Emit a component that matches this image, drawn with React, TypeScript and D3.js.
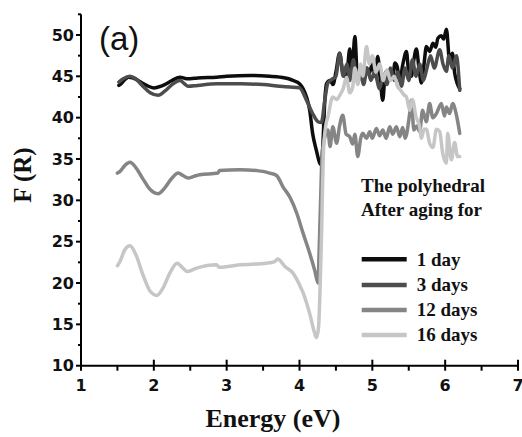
import React from "react";
import * as d3 from "d3";

const W = 522;
const H = 437;

const seriesNames = ["1 day", "3 days", "12 days", "16 days"];
const seriesColors = ["#0d0d0d", "#4d4d4d", "#858585", "#c6c6c6"];

const day1: [number, number][] = [
  [1.52, 43.9], [1.56, 44.2], [1.6, 44.6], [1.65, 44.9], [1.72, 44.8], [1.8, 44.4], [1.9, 43.9], [2.0, 43.6], [2.06, 43.7],
  [2.15, 44.0], [2.25, 44.5], [2.36, 44.9], [2.45, 44.7], [2.5, 44.7], [2.6, 44.8], [2.86, 44.9], [3.0, 45.0], [3.32, 45.1],
  [3.59, 45.0], [3.73, 44.9], [3.85, 44.7], [3.91, 44.5], [4.0, 44.1], [4.05, 43.5], [4.096, 42.5], [4.14, 40.9], [4.18, 38.1],
  [4.23, 36.1], [4.278, 34.5], [4.3, 34.3], [4.32, 36.5], [4.347, 42.0], [4.37, 44.1], [4.42, 44.5], [4.46, 44.0], [4.5, 45.5],
  [4.55, 47.8], [4.6, 45.2], [4.645, 44.9], [4.69, 48.3], [4.72, 45.5], [4.76, 49.8], [4.8, 44.2], [4.84, 45.5], [4.87, 44.9],
  [4.92, 46.0], [4.96, 45.4], [5.0, 46.5], [5.04, 45.0], [5.074, 47.4], [5.11, 44.5], [5.143, 42.1], [5.18, 45.5], [5.21, 44.5],
  [5.24, 45.6], [5.28, 44.8], [5.31, 46.6], [5.34, 46.2], [5.376, 44.5], [5.42, 46.5], [5.468, 48.0], [5.5, 45.5], [5.536, 45.0],
  [5.57, 47.0], [5.605, 48.3], [5.64, 46.0], [5.674, 44.2], [5.71, 46.5], [5.742, 48.6], [5.787, 48.0], [5.833, 49.0],
  [5.87, 48.5], [5.9, 49.6], [5.948, 49.9], [5.98, 49.5], [6.017, 50.7], [6.06, 47.0], [6.1, 47.8], [6.13, 45.4], [6.2, 43.5],
];

const day3: [number, number][] = [
  [1.52, 44.3], [1.58, 44.7], [1.672, 45.0], [1.75, 44.7], [1.85, 43.8], [1.95, 43.0], [2.06, 42.7], [2.15, 43.2], [2.25, 44.0],
  [2.36, 44.5], [2.42, 44.1], [2.47, 43.8], [2.6, 43.9], [2.86, 44.1], [3.2, 44.1], [3.5, 44.0], [3.73, 43.8], [3.87, 43.7],
  [4.0, 43.6], [4.096, 42.1], [4.18, 40.5], [4.255, 39.5], [4.3, 39.4], [4.347, 42.1], [4.39, 44.2], [4.44, 44.6], [4.5, 45.0],
  [4.553, 47.8], [4.6, 45.0], [4.65, 46.5], [4.69, 44.5], [4.74, 47.0], [4.78, 45.0], [4.83, 46.0], [4.88, 44.0], [4.93, 46.0],
  [4.98, 44.5], [5.03, 45.5], [5.1, 43.5], [5.15, 45.0], [5.2, 44.0], [5.25, 46.0], [5.3, 44.5], [5.35, 45.5], [5.4, 43.8],
  [5.45, 46.0], [5.5, 44.5], [5.55, 47.0], [5.6, 45.0], [5.65, 46.5], [5.7, 44.5], [5.75, 46.0], [5.8, 47.5], [5.85, 46.0],
  [5.925, 48.2], [5.97, 46.5], [6.017, 45.6], [6.05, 47.5], [6.1, 46.0], [6.153, 47.5], [6.2, 43.3],
];

const day12: [number, number][] = [
  [1.5, 33.3], [1.535, 33.5], [1.6, 34.2], [1.672, 34.6], [1.75, 34.0], [1.85, 32.6], [1.95, 31.3], [2.06, 30.8], [2.15, 31.5],
  [2.25, 32.7], [2.335, 33.3], [2.4, 33.0], [2.47, 32.7], [2.55, 32.9], [2.63, 33.1], [2.88, 33.3], [2.9, 33.6], [3.18, 33.7],
  [3.41, 33.6], [3.5, 33.5], [3.59, 33.3], [3.685, 33.0], [3.775, 31.6], [3.867, 30.4], [3.96, 28.5], [4.05, 26.0], [4.14, 23.6],
  [4.21, 21.5], [4.255, 20.0], [4.27, 24.0], [4.29, 30.0], [4.31, 35.5], [4.35, 37.7], [4.39, 38.5], [4.42, 36.5], [4.457, 38.9],
  [4.51, 36.9], [4.55, 39.0], [4.594, 40.3], [4.64, 38.0], [4.69, 37.7], [4.73, 36.8], [4.76, 38.0], [4.8, 35.3], [4.84, 37.5],
  [4.868, 38.1], [4.92, 37.5], [4.964, 38.3], [5.0, 37.5], [5.056, 38.7], [5.1, 37.8], [5.143, 38.5], [5.19, 37.5], [5.239, 38.9],
  [5.28, 38.0], [5.33, 38.9], [5.376, 37.7], [5.417, 38.8], [5.45, 37.5], [5.513, 40.5], [5.536, 42.1], [5.57, 38.5], [5.61, 39.0],
  [5.65, 38.3], [5.69, 40.9], [5.74, 39.5], [5.787, 41.7], [5.83, 40.0], [5.88, 40.5], [5.948, 41.7], [5.99, 40.2], [6.017, 41.3],
  [6.06, 40.5], [6.103, 41.7], [6.15, 40.5], [6.2, 38.1],
];

const day16: [number, number][] = [
  [1.5, 22.1], [1.535, 22.6], [1.6, 24.0], [1.672, 24.5], [1.75, 23.5], [1.85, 21.0], [1.95, 19.0], [2.04, 18.5], [2.12, 19.3],
  [2.22, 21.2], [2.32, 22.4], [2.4, 21.8], [2.46, 21.4], [2.587, 21.8], [2.86, 22.2], [2.9, 21.9], [3.18, 22.2], [3.55, 22.4],
  [3.66, 22.6], [3.7, 22.9], [3.8, 22.0], [3.91, 21.2], [4.0, 19.8], [4.05, 18.8], [4.14, 16.3], [4.21, 13.9], [4.233, 13.4],
  [4.26, 14.5], [4.3, 25.0], [4.33, 36.0], [4.36, 39.0], [4.39, 40.1], [4.457, 42.5], [4.51, 42.2], [4.553, 42.7], [4.6, 43.5],
  [4.645, 44.9], [4.69, 43.0], [4.73, 43.7], [4.76, 46.0], [4.8, 44.0], [4.84, 46.5], [4.87, 45.0], [4.92, 48.6], [4.96, 46.5],
  [5.0, 47.5], [5.05, 45.5], [5.1, 46.5], [5.15, 44.5], [5.2, 45.8], [5.25, 44.5], [5.3, 45.0], [5.35, 43.7], [5.39, 43.3],
  [5.43, 42.8], [5.468, 42.5], [5.513, 40.9], [5.55, 42.2], [5.6, 40.1], [5.65, 38.9], [5.674, 37.5], [5.71, 38.6], [5.742, 38.6],
  [5.787, 36.9], [5.833, 36.4], [5.88, 38.6], [5.925, 38.3], [5.966, 35.7], [6.017, 34.5], [6.034, 38.1], [6.085, 34.9],
  [6.13, 37.0], [6.17, 35.3], [6.2, 35.3],
];

const allSeries = [day1, day3, day12, day16];

const xTicks = [1, 2, 3, 4, 5, 6, 7];
const xMinorTicks = [1.5, 2.5, 3.5, 4.5, 5.5, 6.5];
const yTicks = [10, 15, 20, 25, 30, 35, 40, 45, 50];
const yMinorTicks = [12.5, 17.5, 22.5, 27.5, 32.5, 37.5, 42.5, 47.5, 52.5];

const xLabel = "Energy (eV)";
const yLabel = "F (R)";
const panelLabel = "(a)";
const legendTitle = ["The polyhedral", "After aging for"];

export default function App() {
  const x = d3.scaleLinear().domain([1, 7]).range([81, 518]);
  const y = d3.scaleLinear().domain([10, 52.5]).range([365.7, 14.3]);
  const line = d3
    .line<[number, number]>()
    .x((d) => x(d[0]))
    .y((d) => y(d[1]))
    .curve(d3.curveMonotoneX);

  const tickFont = "'DejaVu Sans', sans-serif";
  const serif = "'Liberation Serif', 'Times New Roman', serif";
  const axisY = y(10);
  const axisX = x(1);

  const legendY = [259.3, 285, 310, 335];

  return (
    <svg width={W} height={H} style={{ position: "absolute", left: 0, top: 0, background: "#fff" }}>
      <rect x={0} y={0} width={W} height={H} fill="#fff" />
      {/* data lines */}
      {allSeries.map((s, i) => (
        <path
          key={seriesNames[i]}
          d={line(s) || ""}
          fill="none"
          stroke={seriesColors[i]}
          strokeWidth={3.5}
          strokeLinejoin="round"
          strokeLinecap="round"
        />
      ))}
      {/* axes */}
      <line x1={axisX} x2={axisX} y1={y(52.5)} y2={axisY + 1} stroke="#000" strokeWidth={2} />
      <line x1={axisX - 1} x2={x(7)} y1={axisY} y2={axisY} stroke="#000" strokeWidth={2} />
      {yTicks.map((t) => (
        <g key={"yt" + t}>
          <line x1={axisX - 5} x2={axisX} y1={y(t)} y2={y(t)} stroke="#000" strokeWidth={2} />
          <text
            x={74}
            y={y(t)}
            dy="0.36em"
            textAnchor="end"
            fontFamily={tickFont}
            fontWeight="bold"
            fontSize={16}
            fill="#111"
          >
            {t}
          </text>
        </g>
      ))}
      {yMinorTicks.map((t) => (
        <line key={"ym" + t} x1={axisX - 3} x2={axisX} y1={y(t)} y2={y(t)} stroke="#000" strokeWidth={2} />
      ))}
      {xTicks.map((t) => (
        <g key={"xt" + t}>
          <line x1={x(t)} x2={x(t)} y1={axisY - 6} y2={axisY + 5} stroke="#000" strokeWidth={2} />
          <text
            x={x(t)}
            y={391}
            textAnchor="middle"
            fontFamily={tickFont}
            fontWeight="bold"
            fontSize={16}
            fill="#111"
          >
            {t}
          </text>
        </g>
      ))}
      {xMinorTicks.map((t) => (
        <line key={"xm" + t} x1={x(t)} x2={x(t)} y1={axisY} y2={axisY + 5} stroke="#000" strokeWidth={2} />
      ))}
      {/* axis titles */}
      <text x={273} y={427} textAnchor="middle" fontFamily={serif} fontWeight="bold" fontSize={26} fill="#111">
        {xLabel}
      </text>
      <text
        transform={`translate(31,175) rotate(-90)`}
        textAnchor="middle"
        fontFamily={serif}
        fontWeight="bold"
        fontSize={25}
        fill="#111"
      >
        {yLabel}
      </text>
      <text x={99} y={50} fontFamily="'Liberation Sans', Arial, sans-serif" fontSize={33} fill="#111">
        {panelLabel}
      </text>
      {/* legend */}
      {legendTitle.map((t, i) => (
        <text key={t} x={361} y={192 + i * 23.5} fontFamily={serif} fontWeight="bold" fontSize={19} fill="#111">
          {t}
        </text>
      ))}
      {seriesNames.map((n, i) => (
        <g key={"lg" + n}>
          <line x1={361.7} x2={406.7} y1={legendY[i]} y2={legendY[i]} stroke={seriesColors[i]} strokeWidth={4.5} />
          <text x={416.7} y={legendY[i] + 6.3} fontFamily={serif} fontWeight="bold" fontSize={19} fill="#111">
            {n}
          </text>
        </g>
      ))}
    </svg>
  );
}
